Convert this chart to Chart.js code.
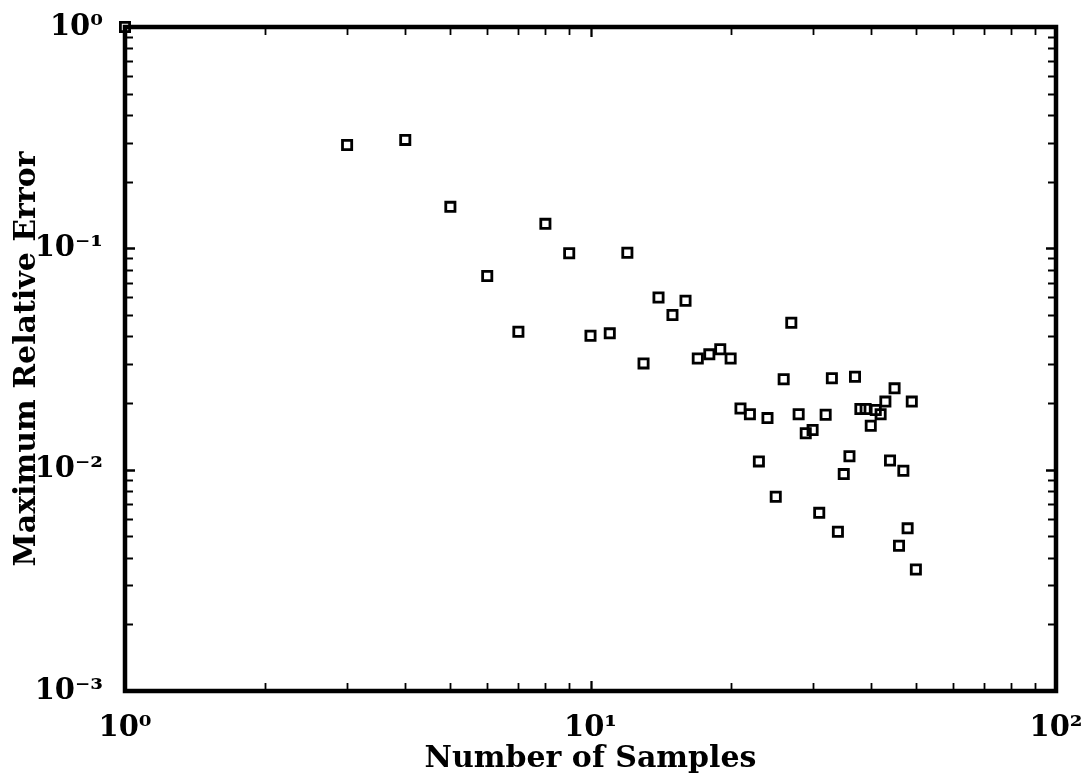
<!DOCTYPE html>
<html>
<head>
<meta charset="utf-8">
<script src="https://cdn.jsdelivr.net/npm/chart.js@4.4.1/dist/chart.umd.min.js"></script>
<style>
  html, body { margin: 0; padding: 0; background: #fff; }
</style>
</head>
<body>
<canvas id="errChart" width="1087" height="780"></canvas>
<script>
// number of samples vs max relative error
const samples = [1, 3, 4, 5, 6, 7, 8, 9, 10, 11, 12, 13, 14, 15, 16, 17, 18, 19, 20,
    21, 22, 23, 24, 25, 26, 27, 28, 29, 30, 31, 32, 33, 34, 35, 36, 37, 38, 39, 40,
    41, 42, 43, 44, 45, 46, 47, 48, 49, 50];
const maxRelError = [1.0, 0.293, 0.309, 0.154, 0.075, 0.042, 0.129, 0.095, 0.0403, 0.0413,
    0.0955, 0.0302, 0.060, 0.050, 0.058, 0.0318, 0.0332, 0.0350, 0.0318,
    0.0189, 0.0178, 0.0109, 0.0171, 0.00754, 0.0256, 0.0461, 0.0178, 0.0146, 0.0151,
    0.00638, 0.0177, 0.0259, 0.00524, 0.00955, 0.0115, 0.0263, 0.0188, 0.0188, 0.0158,
    0.0186, 0.0178, 0.0203, 0.0110, 0.0233, 0.00453, 0.00989, 0.00543, 0.0203, 0.00354];

const xTickValues = [1, 10, 100];
const xTickLabels = ['10⁰', '10¹', '10²'];
const yTickValues = [0.001, 0.01, 0.1, 1];
const yTickLabels = ['10⁻³', '10⁻²', '10⁻¹', '10⁰'];

const xTitle = 'Number of Samples';
const yTitle = 'Maximum Relative Error';

// minor ticks at 2..9 of every decade
function decadeTicks(lo, hi) {
    let out = [];
    for (let d = lo; d < hi; d *= 10) {
        for (let k = 1; k <= 10; k++) out.push({ v: d * k, major: k === 1 || k === 10 });
    }
    return out;
}

const frameAndTicks = {
    id: 'frameAndTicks',
    afterDatasetsDraw(chart) {
        const ctx = chart.ctx;
        const a = chart.chartArea;
        const xs = chart.scales.x, ys = chart.scales.y;
        ctx.save();
        ctx.strokeStyle = '#000';
        ctx.lineCap = 'butt';

        ctx.lineWidth = 1.8;
        decadeTicks(1, 100).forEach(t => {
            const px = Math.round(xs.getPixelForValue(t.v)) + 0.5;
            const len = t.major ? 10 : 8;
            ctx.beginPath();
            ctx.moveTo(px, a.bottom); ctx.lineTo(px, a.bottom - len);
            ctx.moveTo(px, a.top); ctx.lineTo(px, a.top + len);
            ctx.stroke();
        });
        decadeTicks(0.001, 1).forEach(t => {
            const py = Math.round(ys.getPixelForValue(t.v)) + 0.5;
            const len = t.major ? 10 : 8;
            ctx.beginPath();
            ctx.moveTo(a.left, py); ctx.lineTo(a.left + len, py);
            ctx.moveTo(a.right, py); ctx.lineTo(a.right - len, py);
            ctx.stroke();
        });

        ctx.lineWidth = 4.5;
        ctx.lineJoin = 'miter';
        ctx.strokeRect(a.left, a.top, a.right - a.left, a.bottom - a.top);
        ctx.restore();
    }
};

const tickFont = { family: '"DejaVu Serif", serif', size: 29, weight: 'bold' };
const titleFont = { family: '"DejaVu Serif", serif', size: 30, weight: 'bold' };

new Chart(document.getElementById('errChart'), {
    type: 'scatter',
    data: {
        datasets: [{
            data: samples.map((s, i) => ({ x: s, y: maxRelError[i] })),
            pointStyle: 'rect',
            radius: 6.5,
            borderWidth: 2.8,
            borderColor: '#000',
            backgroundColor: 'rgba(0,0,0,0)',
            clip: false
        }]
    },
    options: {
        responsive: false,
        animation: false,
        devicePixelRatio: 1,
        layout: { padding: { top: 27, right: 31, left: 0, bottom: 0 } },
        plugins: { legend: { display: false }, tooltip: { enabled: false } },
        scales: {
            x: {
                type: 'logarithmic',
                min: 1, max: 100,
                afterFit: s => { s.height = 89; s.paddingLeft = 0; s.paddingRight = 0; },
                afterBuildTicks: s => { s.ticks = xTickValues.map(v => ({ value: v })); },
                grid: { display: false, drawTicks: false },
                border: { display: false },
                ticks: {
                    color: '#000', font: tickFont, padding: 20, maxRotation: 0,
                    callback: v => xTickLabels[xTickValues.indexOf(v)]
                },
                title: {
                    display: true, text: xTitle, color: '#000', font: titleFont,
                    padding: { top: 0, bottom: 3 }
                }
            },
            y: {
                type: 'logarithmic',
                min: 0.001, max: 1,
                afterFit: s => { s.width = 125; s.paddingTop = 0; s.paddingBottom = 0; },
                afterBuildTicks: s => { s.ticks = yTickValues.map(v => ({ value: v })); },
                grid: { display: false, drawTicks: false },
                border: { display: false },
                ticks: {
                    color: '#000', font: tickFont, padding: 22,
                    callback: v => yTickLabels[yTickValues.indexOf(v)]
                },
                title: {
                    display: true, text: yTitle, color: '#000', font: titleFont,
                    padding: { top: 9, bottom: 0 }
                }
            }
        }
    },
    plugins: [frameAndTicks]
});
</script>
</body>
</html>
